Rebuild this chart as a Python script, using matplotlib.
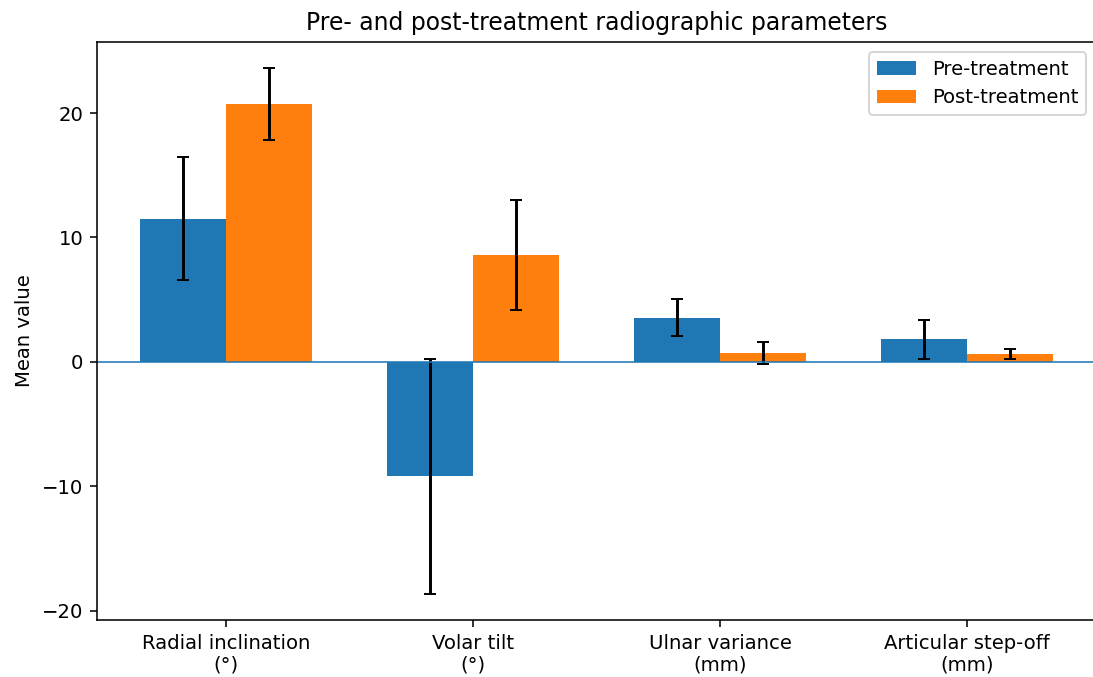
import numpy as np
import matplotlib
matplotlib.use("Agg")
import matplotlib.pyplot as plt

categories = ["Radial inclination\n(°)", "Volar tilt\n(°)", "Ulnar variance\n(mm)", "Articular step-off\n(mm)"]
pre_mean = [11.5, -9.2, 3.55, 1.8]
pre_sd = [4.95, 9.45, 1.5, 1.55]
post_mean = [20.7, 8.6, 0.7, 0.6]
post_sd = [2.9, 4.4, 0.9, 0.4]

x = np.arange(len(categories))
width = 0.35

W, H, DPI = 1093, 677, 141
fig = plt.figure(figsize=(W / DPI, H / DPI), dpi=DPI)
# original picture is cropped at the right edge, so the axes run slightly past it
ax = fig.add_axes([97 / W, 1 - 620 / H, (1096 - 97) / W, (620 - 42) / H])
ax.bar(x - width / 2, pre_mean, width, yerr=pre_sd, capsize=3, label="Pre-treatment")
ax.bar(x + width / 2, post_mean, width, yerr=post_sd, capsize=3, label="Post-treatment")
ax.axhline(0, linewidth=0.8)
ax.set_xlim(-0.5225, 3.5225)
ax.set_xticks(x)
ax.set_xticklabels(categories)
ax.set_ylabel("Mean value")
ax.set_title("Pre- and post-treatment radiographic parameters")
ax.legend()
fig.savefig("out.png", dpi=DPI)
